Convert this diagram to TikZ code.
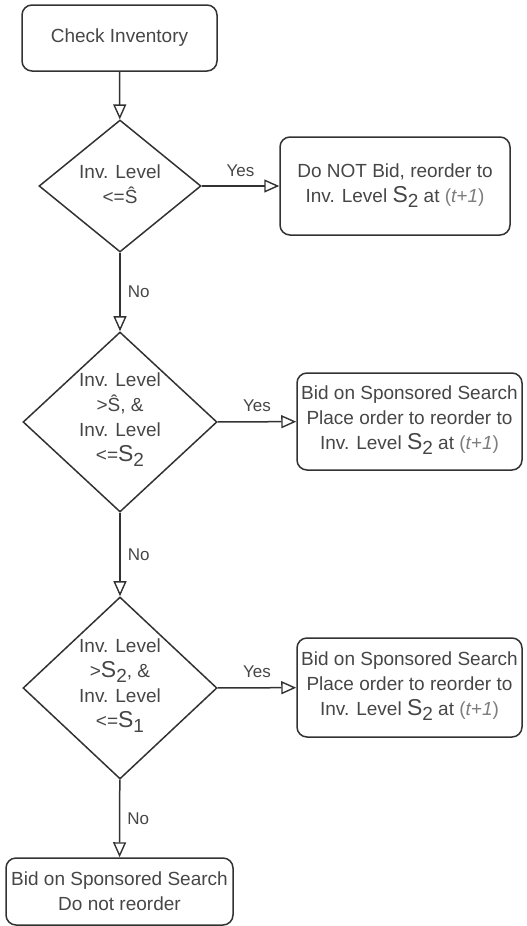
\documentclass[tikz,border=0pt]{standalone}
\usepackage{fontspec}
\setmainfont{Liberation Sans}
\usetikzlibrary{shapes.geometric,arrows.meta}
\definecolor{ln}{RGB}{50,50,50}
\definecolor{tx}{RGB}{70,70,70}
\definecolor{lt}{RGB}{125,125,125}
\newcommand\Stwo[1]{{\fontsize{23}{23}\selectfont S}\raisebox{-5pt}{{\fontsize{19}{19}\selectfont #1}}}
\newcommand\tpo{{\color{lt}(\textit{t+1})}}
\begin{document}
\begin{tikzpicture}[x=1pt,y=-1pt,
  boxst/.style={draw=ln, line width=1.5pt, rounded corners=10pt, inner sep=0pt},
  diast/.style={draw=ln, line width=1.5pt, diamond, inner sep=0pt},
  txt/.style={text=tx, align=center, font=\fontsize{19}{25}\selectfont, inner sep=0pt},
  lab/.style={text=tx, font=\fontsize{17}{19}\selectfont, inner sep=0pt},
  arr/.style={draw=ln, line width=1.5pt, -{Triangle[open, length=15pt, width=13pt, line width=1.4pt]}}]
\useasboundingbox (0,0) rectangle (527,926);

\node[boxst, minimum width=195pt, minimum height=66pt] (check) at (119.5,38) {};
\node[txt] (checkt) at (check) {Check Inventory};

\node[diast, minimum width=162pt, minimum height=132pt] (d1) at (120,186) {};
\node[txt] (d1t) at (120,184) {Inv. Level\\<=Ŝ};

\node[boxst, minimum width=230pt, minimum height=98pt] (b1) at (395,186) {};
\node[txt] (b1t) at (395,186) {Do NOT Bid, reorder to\\Inv. Level \Stwo{2} at \tpo};

\node[diast, minimum width=194pt, minimum height=180pt] (d2) at (120,422) {};
\node[txt] (d2t) at (120,420) {Inv. Level\\>Ŝ, \&\\Inv. Level\\<=\Stwo{2}};

\node[boxst, minimum width=225pt, minimum height=97pt] (b2) at (409.5,421.5) {};
\node[txt] (b2t) at (409.5,420) {Bid on Sponsored Search\\Place order to reorder to\\Inv. Level \Stwo{2} at \tpo};

\node[diast, minimum width=194pt, minimum height=182pt] (d3) at (120,688) {};
\node[txt] (d3t) at (120,686) {Inv. Level\\>\Stwo{2}, \&\\Inv. Level\\<=\Stwo{1}};

\node[boxst, minimum width=225pt, minimum height=99pt] (b3) at (409.5,687.5) {};
\node[txt] (b3t) at (409.5,686) {Bid on Sponsored Search\\Place order to reorder to\\Inv. Level \Stwo{2} at \tpo};

\node[boxst, minimum width=227pt, minimum height=67pt] (b4) at (119.5,891.5) {};
\node[txt] (b4t) at (b4) {Bid on Sponsored Search\\Do not reorder};

\draw[arr] (check) -- (d1);
\draw[arr] (d1) -- node[lab, above=9pt, pos=0.5] {Yes} (b1);
\draw[arr] (d1) -- node[lab, right=7pt, pos=0.5] {No} (d2);
\draw[arr] (d2) -- node[lab, above=9pt, pos=0.5] {Yes} (b2);
\draw[arr] (d2) -- node[lab, right=7pt, pos=0.5] {No} (d3);
\draw[arr] (d3) -- node[lab, above=9pt, pos=0.5] {Yes} (b3);
\draw[arr] (d3) -- node[lab, right=7pt, pos=0.5] {No} (b4);
\end{tikzpicture}
\end{document}
